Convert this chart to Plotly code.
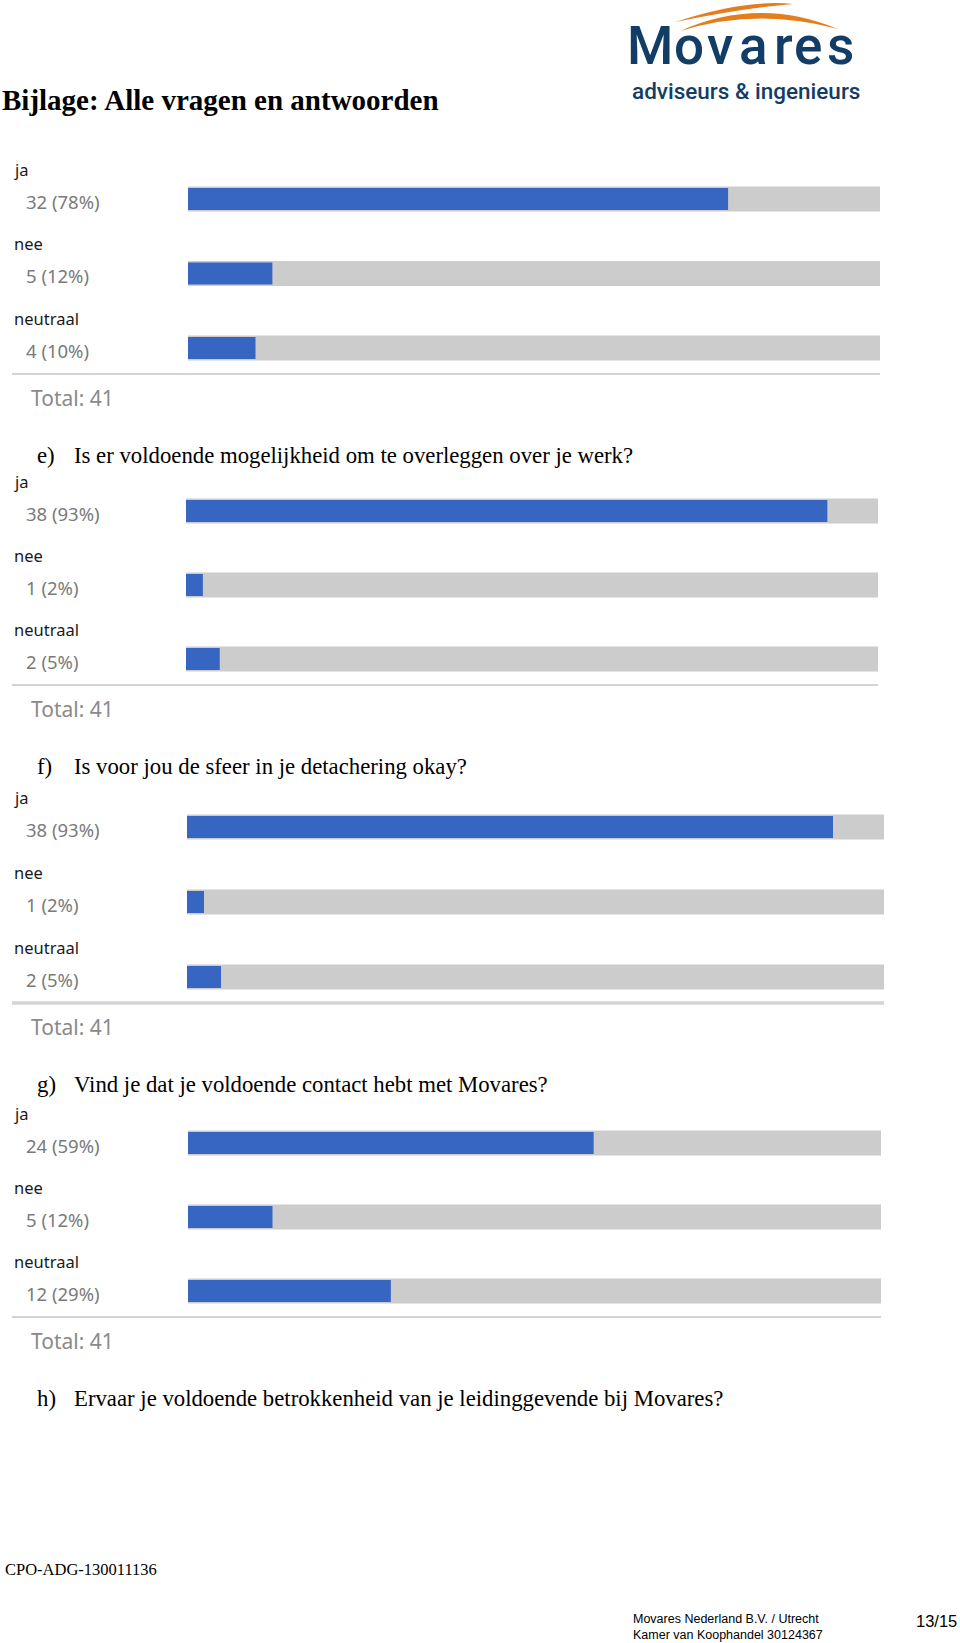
import plotly.graph_objects as go

# ---------------- data ----------------
categories = ["ja", "nee", "neutraal"]
total_respondents = 41
counts_d = [32, 5, 4]
counts_e = [38, 1, 2]
counts_f = [38, 1, 2]
counts_g = [24, 5, 12]
question_letters = ["e)", "f)", "g)", "h)"]
question_texts = [
    "Is er voldoende mogelijkheid om te overleggen over je werk?",
    "Is voor jou de sfeer in je detachering okay?",
    "Vind je dat je voldoende contact hebt met Movares?",
    "Ervaar je voldoende betrokkenheid van je leidinggevende bij Movares?",
]
page_title = "Bijlage: Alle vragen en antwoorden"
doc_code = "CPO-ADG-130011136"
footer_lines = ["Movares Nederland B.V. / Utrecht", "Kamer van Koophandel 30124367"]
page_number = "13/15"
logo_word = "Movares"
logo_tagline = "adviseurs & ingenieurs"

# ---------------- layout constants ----------------
W, H = 960, 1643
BLUE = "#3665c2"
GREY = "#cccccc"
NAVY = "#123d66"
ORANGE = "#e47d1c"
SANS = "Noto Sans, Open Sans, sans-serif"
SERIF = "Liberation Serif, Times New Roman, serif"

series = [counts_d, counts_e, counts_f, counts_g]
# first bar centre (px), spacing (px), bar x start, bar x end, separator width
chart_pos = [
    dict(c1=199, d=74.5, xs=188, xe=880, sep=2),
    dict(c1=511, d=74.0, xs=186, xe=878, sep=2),
    dict(c1=827, d=75.0, xs=187, xe=884, sep=3.5),
    dict(c1=1143, d=74.0, xs=188, xe=881, sep=2),
]

fig = go.Figure()
layout = dict(
    width=W, height=H, margin=dict(l=0, r=0, t=0, b=0),
    paper_bgcolor="white", plot_bgcolor="rgba(0,0,0,0)",
    barmode="overlay", showlegend=False,
)
annotations = []
shapes = []

# pixel overlay axis for decorations
PX, PY = "x5", "y5"
fig.add_trace(go.Scatter(x=[], y=[], xaxis=PX, yaxis=PY, showlegend=False, hoverinfo="skip"))
layout["xaxis5"] = dict(domain=[0, 1], range=[0, W], visible=False, fixedrange=True)
layout["yaxis5"] = dict(domain=[0, 1], range=[H, 0], visible=False, fixedrange=True)


def ann(x, y, text, size, color="#000", family=SANS, xanchor="left", weight=None, yanchor="middle"):
    f = dict(size=size, color=color, family=family)
    if weight is not None:
        f["weight"] = weight
    annotations.append(dict(x=x, y=y, xref=PX, yref=PY, text=text, showarrow=False,
                            xanchor=xanchor, yanchor=yanchor, font=f))


for i, (counts, p) in enumerate(zip(series, chart_pos)):
    k = i + 1
    xa = "x" if k == 1 else f"x{k}"
    ya = "y" if k == 1 else f"y{k}"
    c1, d = p["c1"], p["d"]
    top = c1 - d / 2
    bottom = c1 + 2.5 * d
    layout["xaxis" if k == 1 else f"xaxis{k}"] = dict(
        domain=[p["xs"] / W, p["xe"] / W], range=[0, total_respondents],
        visible=False, fixedrange=True, anchor=ya)
    layout["yaxis" if k == 1 else f"yaxis{k}"] = dict(
        domain=[1 - bottom / H, 1 - top / H], type="category",
        categoryorder="array", categoryarray=categories, range=[2.5, -0.5],
        visible=False, fixedrange=True, anchor=xa)
    fig.add_trace(go.Bar(x=[total_respondents] * len(categories), y=categories, orientation="h",
                         marker=dict(color=GREY, line=dict(width=0)), width=25 / d,
                         xaxis=xa, yaxis=ya, hoverinfo="skip"))
    fig.add_trace(go.Bar(x=counts, y=categories, orientation="h",
                         marker=dict(color=BLUE, line=dict(width=0)), width=22 / d,
                         xaxis=xa, yaxis=ya))
    for j, (cat, c) in enumerate(zip(categories, counts)):
        cy = c1 + j * d
        ann(12, cy - 30, cat, 16.5, "#1a1a1a")
        pct = round(100 * c / total_respondents)
        ann(24, cy + 2, f"{c} ({pct}%)", 18.5, "#7a7a7a")
    last = c1 + 2 * d
    shapes.append(dict(type="line", xref=PX, yref=PY, x0=12, x1=p["xe"], y0=last + 26, y1=last + 26,
                       line=dict(color="#d4d4d4", width=p["sep"])))
    ann(29, last + 50, f"Total: {total_respondents}", 21, "#8a8a8a")
    # question following the chart
    qy = last + 107
    ann(35, qy, question_letters[i], 22.75, "#000", SERIF)
    ann(72, qy, question_texts[i], 22.75, "#000", SERIF)

# title
ann(0, 100, f"<b>{page_title}</b>", 29, "#000", SERIF)

# logo
letter_centres = [650, 688.5, 720, 753.5, 783, 807.5, 840]
for ch, cx in zip(logo_word, letter_centres):
    ann(cx, 46, ch, 53, NAVY, "Roboto, sans-serif", xanchor="center", weight=500)
ann(746, 91, logo_tagline, 22.5, NAVY, "Roboto, sans-serif", xanchor="center", weight=500)
shapes.append(dict(type="path", xref=PX, yref=PY,
                   path="M 675,22 Q 745,-1 793,4 Q 745,8 675,22 Z",
                   fillcolor=ORANGE, line=dict(width=0)))
shapes.append(dict(type="path", xref=PX, yref=PY,
                   path="M 680,31 Q 758,-4 838,29 Q 758,7 680,31 Z",
                   fillcolor=ORANGE, line=dict(width=0)))

# footer
ann(3, 1569, doc_code, 16.5, "#000", SERIF)
narrow = "Liberation Sans Narrow, Arial Narrow, Liberation Sans, sans-serif"
ann(631, 1619, footer_lines[0], 12.5, "#000", narrow)
ann(631, 1635, footer_lines[1], 12.5, "#000", narrow)
ann(959, 1621, page_number, 16.5, "#000", "Liberation Sans, Arial, sans-serif", xanchor="right")

layout["annotations"] = annotations
layout["shapes"] = shapes
fig.update_layout(**layout)
fig.write_html("out.html", config={"displayModeBar": False})
